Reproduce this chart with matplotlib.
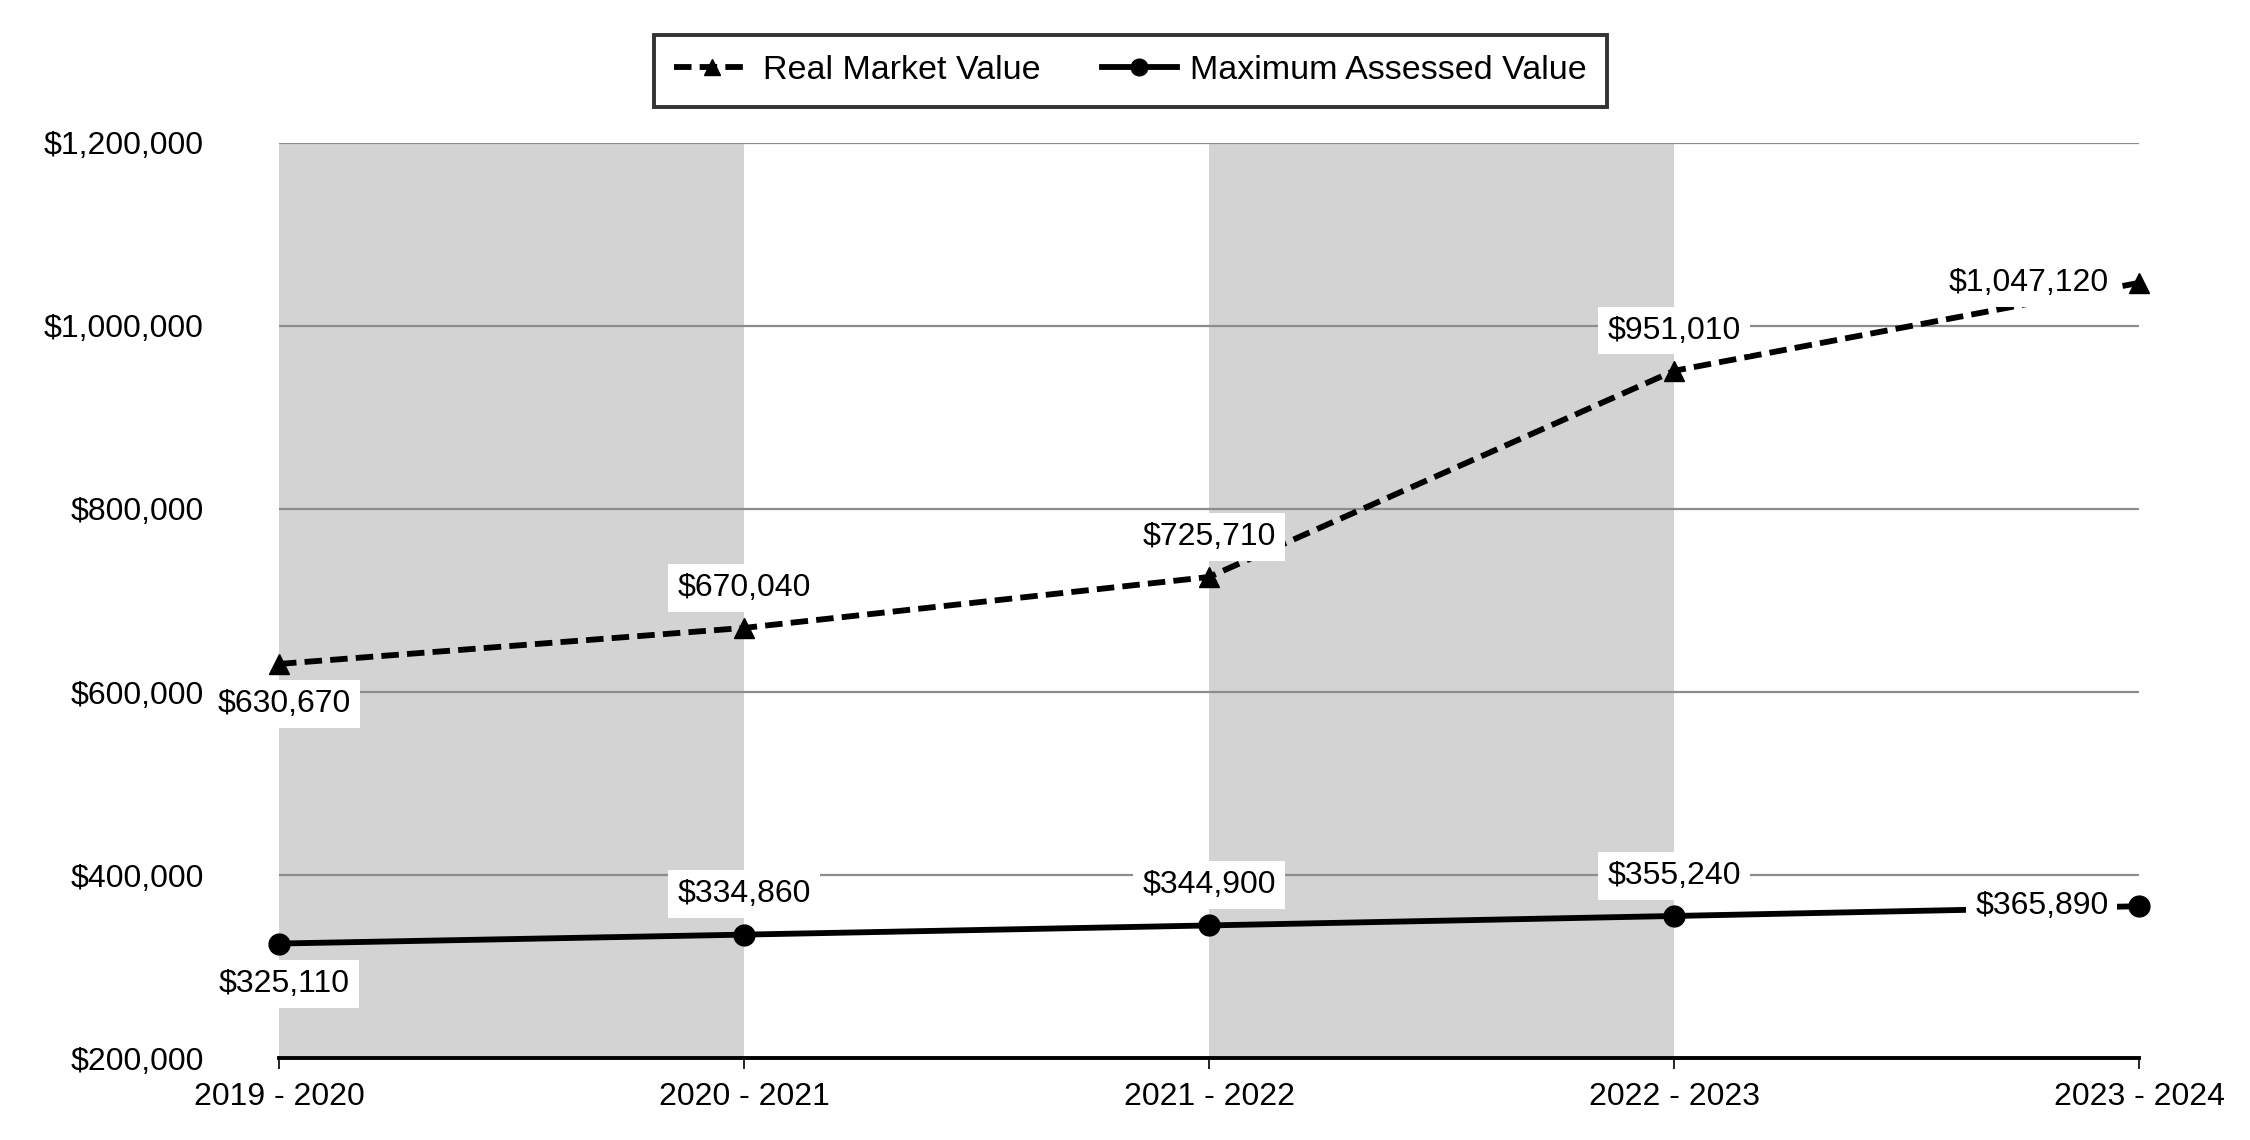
import matplotlib
matplotlib.use("Agg")
import matplotlib.pyplot as plt

years = ["2019 - 2020", "2020 - 2021", "2021 - 2022", "2022 - 2023", "2023 - 2024"]
real_market = [630670, 670040, 725710, 951010, 1047120]
max_assessed = [325110, 334860, 344900, 355240, 365890]
y_ticks = [200000, 400000, 600000, 800000, 1000000, 1200000]
shaded = [(0, 1), (2, 3)]

plt.rcParams['font.family'] = ['Liberation Sans', 'DejaVu Sans']
FS = 23

fig = plt.figure(figsize=(22.5, 11.4), dpi=100)
ax = fig.add_axes([0.124, 0.0719, 0.8267, 0.8027])

x = list(range(len(years)))
for a, b in shaded:
    ax.axvspan(a, b, color='#d3d3d3', zorder=0, lw=0)

ax.set_axisbelow(True)
ax.yaxis.grid(True, color='#8c8c8c', linewidth=1.6)
ax.xaxis.grid(False)

l1, = ax.plot(x, real_market, linestyle=(0, (3.0, 1.4)), color='black', lw=4.2,
              marker='^', markersize=15, zorder=3, clip_on=False, label='Real Market Value')
l2, = ax.plot(x, max_assessed, linestyle='-', color='black', lw=4.2,
              marker='o', markersize=15, zorder=3, clip_on=False, label='Maximum Assessed Value')

def fmt(v):
    return "${:,}".format(v)

bbox = dict(boxstyle='square,pad=0.28', fc='white', ec='none')
n = len(x)
for series in (real_market, max_assessed):
    for i, v in enumerate(series):
        if i == 0:
            ax.annotate(fmt(v), (x[i], v), xytext=(4, -29), textcoords='offset points',
                        ha='center', va='center', fontsize=FS, bbox=bbox, zorder=5)
        elif i == n - 1:
            ax.annotate(fmt(v), (x[i], v), xytext=(-22, 0), textcoords='offset points',
                        ha='right', va='center', fontsize=FS, bbox=bbox, zorder=5)
        else:
            ax.annotate(fmt(v), (x[i], v), xytext=(0, 29), textcoords='offset points',
                        ha='center', va='center', fontsize=FS, bbox=bbox, zorder=5)

ax.set_xlim(0, n - 1)
ax.set_ylim(200000, 1200000)
ax.set_yticks(y_ticks)
ax.set_yticklabels([fmt(v) for v in y_ticks], fontsize=FS)
ax.set_xticks(x)
ax.set_xticklabels(years, fontsize=FS)
ax.tick_params(axis='y', length=0, pad=54)
ax.tick_params(axis='x', length=8, width=1.2, pad=9, direction='out')

for s in ['left', 'right', 'top']:
    ax.spines[s].set_visible(False)
ax.spines['bottom'].set_linewidth(2.8)
ax.spines['bottom'].set_zorder(4)

leg = fig.legend(handles=[l1, l2], loc='center', bbox_to_anchor=(0.5025, 0.938),
                 ncol=2, fontsize=24.5, frameon=True, fancybox=False, edgecolor='black',
                 handlelength=2.2, handletextpad=0.4, columnspacing=1.8,
                 markerscale=0.8, borderpad=0.6)
leg.get_frame().set_linewidth(2.8)

fig.savefig('out.png', dpi=100)
